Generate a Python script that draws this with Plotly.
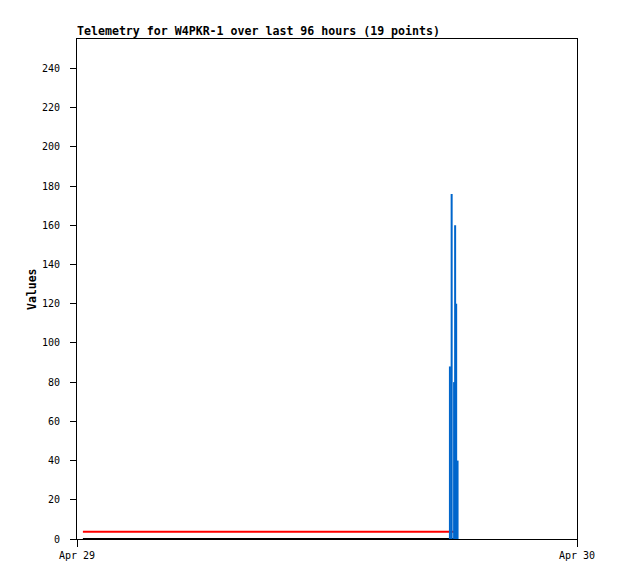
import plotly.graph_objects as go

# ---- data ----
title_text = "Telemetry for W4PKR-1 over last 96 hours (19 points)"
y_label = "Values"

spike_times = ["2024-04-29 17:54", "2024-04-29 17:59", "2024-04-29 18:06",
               "2024-04-29 18:09", "2024-04-29 18:12", "2024-04-29 18:16"]
spike_values = [88, 176, 80, 160, 120, 40]

red_times = ["2024-04-29 00:17", "2024-04-29 18:09"]
red_values = [3.7, 3.7]

black_times = ["2024-04-29 00:17", "2024-04-29 18:16"]
black_values = [0, 0]

x_tick_vals = ["2024-04-29 00:00", "2024-04-30 00:00"]
x_tick_labels = ["Apr 29", "Apr 30"]
y_tick_vals = list(range(0, 241, 20))

# build spike path (vertical segments from zero to value)
bx, by = [], []
for t, v in zip(spike_times, spike_values):
    bx += [t, t, None]
    by += [0, v, None]

fig = go.Figure()
fig.add_trace(go.Scatter(x=red_times, y=red_values, mode="lines",
                         line=dict(color="#ff0000", width=2), hoverinfo="skip"))
fig.add_trace(go.Scatter(x=black_times, y=black_values, mode="lines",
                         line=dict(color="#000000", width=2), hoverinfo="skip"))
fig.add_trace(go.Scatter(x=bx, y=by, mode="lines",
                         line=dict(color="#0066cc", width=2), hoverinfo="skip"))

mono = "DejaVu Sans Mono"
W, H = 610, 571
fig.update_layout(
    width=W, height=H,
    margin=dict(l=69, r=41, t=31, b=40),
    paper_bgcolor="white", plot_bgcolor="white",
    showlegend=False,
    title=dict(text="<b>" + title_text + "</b>", x=69/W, xanchor="left",
               xref="container", yref="container", y=1 - 23/H, yanchor="middle",
               font=dict(family=mono, size=11.6, color="black")),
    xaxis=dict(type="date", range=[x_tick_vals[0], x_tick_vals[1]],
               tickvals=x_tick_vals, ticktext=x_tick_labels,
               ticks="outside", ticklen=7, tickcolor="black", tickwidth=1,
               showline=True, linecolor="black", linewidth=1, mirror=True,
               showgrid=False, zeroline=False,
               tickfont=dict(family=mono, size=10, color="black")),
    yaxis=dict(range=[0, 255], tickvals=y_tick_vals,
               ticks="outside", ticklen=6, tickcolor="black", tickwidth=1,
               ticklabelstandoff=8,
               showline=True, linecolor="black", linewidth=1, mirror=True,
               showgrid=False, zeroline=False,
               tickfont=dict(family=mono, size=10, color="black")),
    annotations=[dict(text="<b>" + y_label + "</b>", textangle=-90,
                      xref="paper", yref="paper", x=(32 - 77) / 500, y=0.5,
                      xanchor="center", yanchor="middle", showarrow=False,
                      font=dict(family=mono, size=11.5, color="black"))],
)

fig.write_html("out.html")
